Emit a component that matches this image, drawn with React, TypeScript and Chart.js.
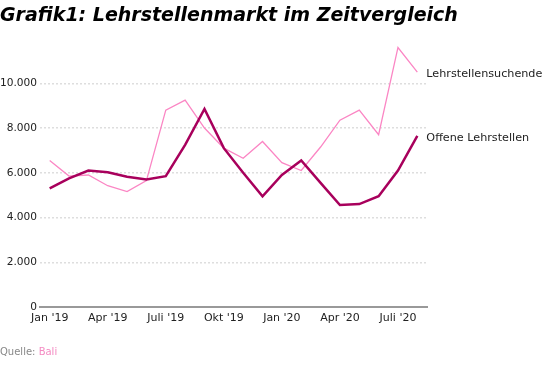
import React, { useEffect, useRef } from "react";
import { Chart, registerables } from "chart.js";

Chart.register(...registerables);

const months = [
  "Jan '19", "Feb '19", "Mär '19", "Apr '19", "Mai '19", "Juni '19", "Juli '19", "Aug '19",
  "Sep '19", "Okt '19", "Nov '19", "Dez '19", "Jan '20", "Feb '20", "Mär '20", "Apr '20",
  "Mai '20", "Juni '20", "Juli '20", "Aug '20",
];
const offeneLehrstellen = [
  5300, 5750, 6100, 6020, 5820, 5700, 5850, 7250, 8850, 7100,
  6000, 4950, 5900, 6550, 5550, 4560, 4600, 4950, 6100, 7650,
];
const lehrstellensuchende = [
  6550, 5850, 5900, 5420, 5160, 5650, 8800, 9250, 8000, 7100,
  6650, 7400, 6450, 6100, 7150, 8350, 8800, 7700, 11600, 10500,
];
const yTicks = [0, 2000, 4000, 6000, 8000, 10000];
const seriesNames = ["Offene Lehrstellen", "Lehrstellensuchende"];
const titleText = "Grafik1: Lehrstellenmarkt im Zeitvergleich";

const FONT = "'DejaVu Sans', sans-serif";
const DARK = "#a8005c";
const PINK = "#fb86c4";

const fmt = (v: number) => String(v).replace(/\B(?=(\d{3})+(?!\d))/g, ".");

const endLabels = {
  id: "endLabels",
  afterDatasetsDraw(chart: any) {
    const ctx = chart.ctx;
    ctx.save();
    ctx.font = `11.2px ${FONT}`;
    ctx.fillStyle = "#222";
    ctx.textAlign = "left";
    ctx.textBaseline = "middle";
    chart.data.datasets.forEach((ds: any, i: number) => {
      const meta = chart.getDatasetMeta(i);
      const pt = meta.data[meta.data.length - 1];
      if (pt) ctx.fillText(ds.label, pt.x + 9, pt.y + 2);
    });
    ctx.restore();
  },
};

export default function App() {
  const ref = useRef<HTMLCanvasElement>(null);
  useEffect(() => {
    document.body.style.margin = "0";
    const chart = new Chart(ref.current!, {
      type: "line",
      data: {
        labels: months,
        datasets: [
          {
            label: seriesNames[0],
            data: offeneLehrstellen,
            borderColor: DARK,
            borderWidth: 2.5,
            pointRadius: 0,
            tension: 0,
            order: 0,
          },
          {
            label: seriesNames[1],
            data: lehrstellensuchende,
            borderColor: PINK,
            borderWidth: 1.3,
            pointRadius: 0,
            tension: 0,
            order: 1,
          },
        ],
      },
      options: {
        animation: false,
        responsive: false,
        layout: { padding: { left: 0, right: 124, top: 43, bottom: 38 } },
        plugins: {
          legend: { display: false },
          tooltip: { enabled: false },
          title: { display: false },
        },
        scales: {
          x: {
            offset: true,
            grid: { display: false, drawTicks: false },
            border: { display: true, color: "#999", width: 2 },
            ticks: {
              autoSkip: false,
              maxRotation: 0,
              padding: 5,
              color: "#222",
              font: { family: FONT, size: 11 },
              callback: (_v: any, i: number) => (i % 3 === 0 ? months[i] : ""),
            },
            afterFit: (s: any) => {
              s.height = 22;
            },
          },
          y: {
            min: 0,
            max: 11800,
            afterBuildTicks: (s: any) => {
              s.ticks = yTicks.map((v) => ({ value: v }));
            },
            ticks: {
              autoSkip: false,
              padding: 3,
              color: "#222",
              font: { family: FONT, size: 10.6 },
              callback: (v: any) => fmt(Number(v)),
            },
            afterFit: (s: any) => {
              s.width = 40;
            },
            grid: {
              drawTicks: false,
              color: (c: any) => (c.tick && c.tick.value === 0 ? "rgba(0,0,0,0)" : "#dedede"),
              lineWidth: 1.5,
            },
            border: { display: false, dash: [2, 2] },
          },
        },
      },
      plugins: [endLabels],
    });
    return () => chart.destroy();
  }, []);
  return (
    <div style={{ position: "relative", width: 551, height: 367, fontFamily: FONT }}>
      <div
        style={{
          position: "absolute",
          left: 0,
          top: 1,
          fontSize: 19,
          fontWeight: "bold",
          fontStyle: "italic",
          color: "#000",
          whiteSpace: "nowrap",
          lineHeight: "26px",
        }}
      >
        {titleText}
      </div>
      <canvas ref={ref} width={551} height={367} style={{ display: "block" }} />
      <div
        style={{
          position: "absolute",
          left: 0,
          top: 346,
          fontSize: 10,
          color: "#888",
        }}
      >
        Quelle: <span style={{ color: "#f48ac2" }}>Bali</span>
      </div>
    </div>
  );
}
